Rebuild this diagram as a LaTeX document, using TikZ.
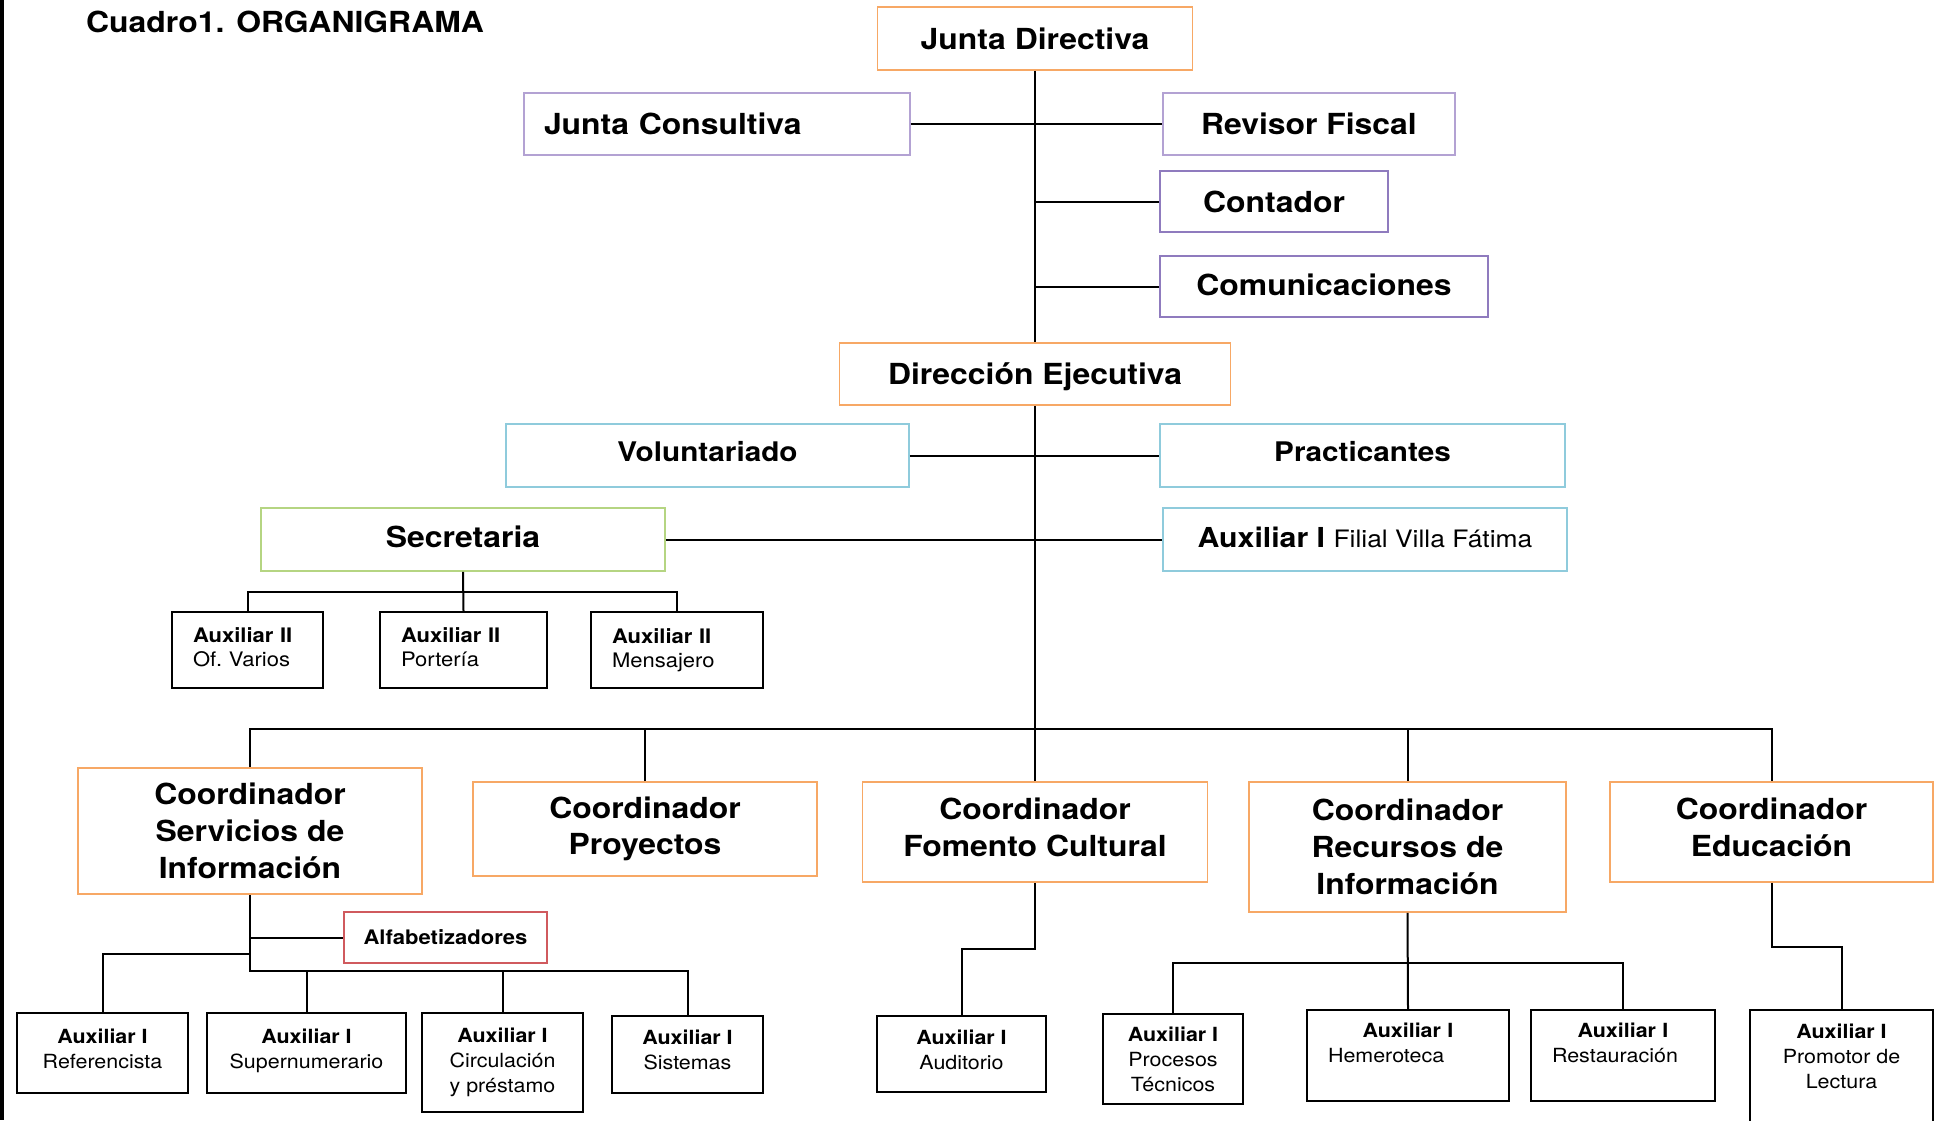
\documentclass[tikz,border=0pt]{standalone}
\usepackage{fontspec}
\setmainfont{TeX Gyre Heros}[FakeStretch=1.1]
\usetikzlibrary{calc}

\definecolor{orangeline}{HTML}{F7A865}
\definecolor{lilacline}{HTML}{B3A2D3}
\definecolor{purpleline}{HTML}{8F7BBE}
\definecolor{cyanline}{HTML}{8FCBDC}
\definecolor{greenline}{HTML}{B5D582}
\definecolor{redline}{HTML}{D05A5E}

\begin{document}
\begin{tikzpicture}[x=1pt, y=-1pt,
  link/.style={draw=black, line width=2pt},
  cbox/.style={draw, line width=1.6pt, inner sep=0pt, align=center},
  big/.style={font=\fontsize{29}{36.7}\selectfont\bfseries},
  mid/.style={font=\fontsize{27}{32}\selectfont\bfseries},
  auxbox/.style={draw=black, line width=2.4pt, inner sep=0pt, align=center,
    font=\fontsize{19.5}{25}\selectfont}]
\useasboundingbox (0,0) rectangle (1946,1120);
\clip (0,0) rectangle (1946,1120);
\fill (0,0) rectangle (3.5,1120);

\node[anchor=base west, inner sep=0pt, font=\fontsize{29}{36}\selectfont\bfseries] (title) at (86,32) {Cuadro1. ORGANIGRAMA};

\node[cbox, big, draw=orangeline, minimum width=315pt, minimum height=63pt] (jd) at (1035,38.5) {Junta Directiva};
\node[cbox, big, draw=lilacline, minimum width=386pt, minimum height=62pt, text width=346pt, inner xsep=20pt, align=left] (jc) at (717,124) {Junta Consultiva};
\node[cbox, big, draw=lilacline, minimum width=292pt, minimum height=62pt] (rf) at (1309,124) {Revisor Fiscal};
\node[cbox, big, draw=purpleline, minimum width=228pt, minimum height=61pt] (cont) at (1274,201.5) {Contador};
\node[cbox, big, draw=purpleline, minimum width=328pt, minimum height=61pt, text depth=3pt] (com) at (1324,286.5) {Comunicaciones};
\node[cbox, big, draw=orangeline, minimum width=391pt, minimum height=62pt, text depth=1pt] (de) at (1035,374) {Dirección Ejecutiva};

\node[cbox, mid, draw=cyanline, minimum width=403pt, minimum height=63pt, text depth=8pt] (vol) at (707.5,455.5) {Voluntariado};
\node[cbox, mid, draw=cyanline, minimum width=405pt, minimum height=63pt, text depth=8pt] (prac) at (1362.5,455.5) {Practicantes};
\node[cbox, big, draw=greenline, minimum width=404pt, minimum height=63pt, text depth=5pt] (sec) at (463,539.5) {Secretaria};
\node[cbox, draw=cyanline, minimum width=404pt, minimum height=63pt, text depth=5pt, font=\fontsize{27.5}{30}\selectfont] (fil) at (1365,539.5) {\textbf{Auxiliar I} {\fontsize{24}{28}\selectfont Filial Villa Fátima}};

\node[auxbox, minimum width=151pt, minimum height=76pt, text width=109pt, inner xsep=21pt, align=left, text depth=30pt, font=\fontsize{20}{24}\selectfont] (ofv) at (247.5,650) {\textbf{Auxiliar II}\\Of.\ Varios};
\node[auxbox, minimum width=167pt, minimum height=76pt, text width=125pt, inner xsep=21pt, align=left, text depth=30pt, font=\fontsize{20}{24}\selectfont] (por) at (463.5,650) {\textbf{Auxiliar II}\\Portería};
\node[auxbox, minimum width=172pt, minimum height=76pt, text width=130pt, inner xsep=21pt, align=left, font=\fontsize{20}{24}\selectfont] (men) at (677,650) {\textbf{Auxiliar II}\\Mensajero};

\node[cbox, big, draw=orangeline, minimum width=344pt, minimum height=126pt] (cs) at (250,831) {Coordinador\\Servicios de\\Información};
\node[cbox, big, draw=orangeline, minimum width=344pt, minimum height=94pt] (cp) at (645,829) {Coordinador\\Proyectos};
\node[cbox, big, draw=orangeline, minimum width=345pt, minimum height=100pt, text depth=10pt] (cf) at (1035,832) {Coordinador\\Fomento Cultural};
\node[cbox, big, draw=orangeline, minimum width=317pt, minimum height=130pt] (cr) at (1407.5,847) {Coordinador\\Recursos de\\Información};
\node[cbox, big, draw=orangeline, minimum width=323pt, minimum height=100pt, text depth=10pt] (ce) at (1771.5,832) {Coordinador\\Educación};

\node[cbox, draw=redline, minimum width=203pt, minimum height=51pt, font=\fontsize{20}{24}\selectfont\bfseries] (alf) at (445.5,937.5) {Alfabetizadores};

\node[auxbox, minimum width=171pt, minimum height=80pt, text depth=9pt] (ref) at (102.5,1053) {\textbf{Auxiliar I}\\Referencista};
\node[auxbox, minimum width=199pt, minimum height=80pt, text depth=9pt] (sup) at (306.5,1053) {\textbf{Auxiliar I}\\Supernumerario};
\node[auxbox, minimum width=161pt, minimum height=99pt] (circ) at (502.5,1062.5) {\textbf{Auxiliar I}\\Circulación\\y préstamo};
\node[auxbox, minimum width=151pt, minimum height=77pt, text depth=9pt] (sis) at (687.5,1054.5) {\textbf{Auxiliar I}\\Sistemas};
\node[auxbox, minimum width=169pt, minimum height=76pt, text depth=8pt] (aud) at (961.5,1054) {\textbf{Auxiliar I}\\Auditorio};
\node[auxbox, minimum width=140pt, minimum height=90pt] (proc) at (1173,1059) {\textbf{Auxiliar I}\\Procesos\\Técnicos};
\node[auxbox, minimum width=202pt, minimum height=91pt, text width=160pt, inner xsep=21pt, align=left] (hem) at (1408,1055.5) {\hfill\textbf{Auxiliar I}\hfill\null\\Hemeroteca\\\null};
\node[auxbox, minimum width=184pt, minimum height=91pt, text width=142pt, inner xsep=21pt, align=left] (rest) at (1623,1055.5) {\hfill\textbf{Auxiliar I}\hfill\null\\Restauración\\\null};
\node[auxbox, minimum width=183pt, minimum height=125pt, text depth=32pt] (prom) at (1841.5,1072.5) {\textbf{Auxiliar I}\\Promotor de\\Lectura};

\coordinate (mb) at (1035,729);
\coordinate (sb) at (464,592);
\coordinate (lb) at (250,954);
\coordinate (ub) at (250,971);
\coordinate (rb) at (1408,963);

\draw[link] (jd.south) -- (de.north);
\draw[link] (jc.east) -- (rf.west);
\draw[link] (jd.south |- cont.west) -- (cont.west);
\draw[link] (jd.south |- com.west) -- (com.west);
\draw[link] (de.south) -- (mb);
\draw[link] (vol.east) -- (prac.west);
\draw[link] (sec.east) -- (fil.west);

\draw[link] (sec.south) -- (por.north);
\draw[link] (ofv.north) -- (ofv.north |- sb) -- (men.north |- sb) -- (men.north);

\draw[link] (cs.north) -- (cs.north |- mb) -- (ce.north |- mb) -- (ce.north);
\draw[link] (cp.north) -- (cp.north |- mb);
\draw[link] (cf.north) -- (cf.north |- mb);
\draw[link] (cr.north) -- (cr.north |- mb);

\draw[link] (cs.south) -- (ub) -- (ub -| sis.north) -- (sis.north);
\draw[link] (cs.south |- alf.west) -- (alf.west);
\draw[link] (lb) -- (lb -| ref.north) -- (ref.north);
\draw[link] (sup.north) -- (sup.north |- ub);
\draw[link] (circ.north) -- (circ.north |- ub);

\draw[link] (cf.south) -- ++(0,66) -| (aud.north);
\draw[link] (cr.south) -- (hem.north);
\draw[link] (proc.north) -- (proc.north |- rb) -- (rest.north |- rb) -- (rest.north);
\draw[link] (ce.south) -- ++(0,64) -| (prom.north);
\end{tikzpicture}
\end{document}
